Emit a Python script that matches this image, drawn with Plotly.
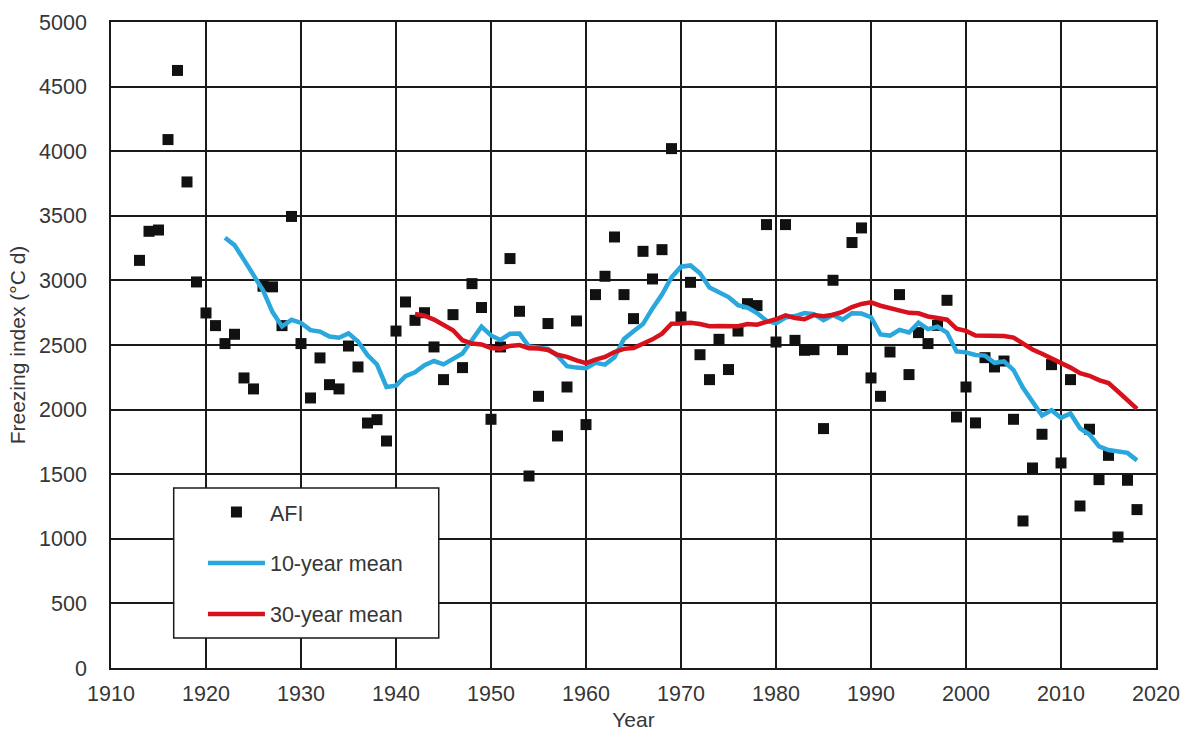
import plotly.graph_objects as go

# Annual freezing index (AFI), degree-days
years = list(range(1913, 2019))
afi = [
    3155, 3380, 3390, 4090, 4625, 3762, 2988, 2748, 2650, 2511,
    2583, 2245, 2160, 2955, 2950, 2650, 3495, 2511, 2090, 2400,
    2193, 2160, 2492, 2330, 1896, 1922, 1757, 2608, 2833, 2691,
    2750, 2485, 2232, 2735, 2325, 2975, 2790, 1925, 2485, 3169,
    2761, 1486, 2103, 2666, 1796, 2175, 2686, 1884, 2890, 3032,
    3336, 2890, 2704, 3225, 3011, 3238, 4020, 2717, 2985, 2425,
    2232, 2544, 2310, 2608, 2820, 2805, 3432, 2523, 3432, 2536,
    2459, 2464, 1853, 3001, 2464, 3293, 3406, 2245, 2103, 2446,
    2890, 2271, 2596, 2511, 2652, 2846, 1943, 2175, 1897, 2402,
    2330, 2376, 1925, 1138, 1548, 1809, 2348, 1587, 2232, 1254,
    1848, 1458, 1646, 1014, 1453, 1226,
]

# 10-year running mean, 1922-2018
years_10 = list(range(1922, 2019))
mean_10 = [
    3330, 3273, 3159, 3036, 2923, 2755, 2644, 2695, 2671, 2615,
    2604, 2565, 2556, 2590, 2527, 2422, 2349, 2175, 2185, 2259,
    2288, 2344, 2376, 2350, 2391, 2434, 2539, 2642, 2574, 2539,
    2587, 2588, 2488, 2475, 2469, 2416, 2336, 2325, 2321, 2362,
    2348, 2405, 2546, 2606, 2662, 2783, 2890, 3023, 3106, 3116,
    3055, 2945, 2910, 2871, 2809, 2790, 2747, 2688, 2668, 2713,
    2724, 2747, 2739, 2693, 2733, 2697, 2746, 2743, 2715, 2582,
    2573, 2617, 2597, 2672, 2623, 2641, 2597, 2450, 2443, 2423,
    2418, 2362, 2373, 2306, 2168, 2058, 1954, 1995, 1936, 1970,
    1855, 1807, 1715, 1687, 1674, 1665, 1607,
]

# 30-year running mean, 1942-2018
years_30 = list(range(1942, 2019))
mean_30 = [
    2741, 2727, 2697, 2659, 2614, 2537, 2511, 2504, 2477, 2471,
    2493, 2499, 2474, 2472, 2462, 2424, 2408, 2381, 2360, 2387,
    2408, 2446, 2470, 2477, 2507, 2544, 2588, 2664, 2667, 2672,
    2663, 2646, 2648, 2651, 2646, 2663, 2657, 2679, 2699, 2730,
    2709, 2699, 2732, 2723, 2734, 2757, 2794, 2818, 2830, 2804,
    2784, 2769, 2749, 2745, 2721, 2709, 2696, 2627, 2609, 2573,
    2572, 2575, 2570, 2557, 2508, 2465, 2432, 2396, 2365, 2325,
    2282, 2262, 2228, 2205, 2140, 2075, 2005,
]

x_ticks = list(range(1910, 2021, 10))
y_ticks = list(range(0, 5001, 500))

FONT = "Arial, Liberation Sans, sans-serif"
TEXT = "#363636"
GRID = "#1a1a1a"

fig = go.Figure()

fig.add_trace(go.Scatter(
    x=years, y=afi, mode="markers", name="AFI",
    marker=dict(symbol="square", size=11, color="#111111"),
    legendgroup="a",
))
fig.add_trace(go.Scatter(
    x=years_10, y=mean_10, mode="lines", name="10-year mean",
    line=dict(color="#2aa7dc", width=4.5),
    legendgroup="b",
))
fig.add_trace(go.Scatter(
    x=years_30, y=mean_30, mode="lines", name="30-year mean",
    line=dict(color="#d8121c", width=4.5),
    legendgroup="c",
))

# white framed box behind the legend entries
fig.add_shape(
    type="rect", xref="x", yref="y",
    x0=1916.6, x1=1944.5, y0=232, y1=1393,
    fillcolor="white", line=dict(color=GRID, width=1.5), layer="above",
)

fig.update_layout(
    width=1189, height=738,
    margin=dict(l=111, r=33, t=22, b=70),
    paper_bgcolor="white", plot_bgcolor="white",
    font=dict(family=FONT, size=21, color=TEXT),
    showlegend=True,
    legend=dict(
        x=0.088, y=0.273, xanchor="left", yanchor="top",
        bgcolor="rgba(0,0,0,0)", borderwidth=0,
        font=dict(family=FONT, size=21.5, color=TEXT),
        traceorder="grouped", tracegroupgap=20, itemwidth=57,
    ),
    xaxis=dict(
        range=[1910, 2020], tickvals=x_ticks, automargin=False,
        showgrid=True, gridcolor=GRID, gridwidth=1.5,
        showline=True, linecolor=GRID, linewidth=1.5, mirror=True,
        zeroline=False, ticks="", ticklabelstandoff=5,
        tickfont=dict(size=21.5, color=TEXT),
        title=dict(text="Year", font=dict(size=21, color=TEXT), standoff=8),
    ),
    yaxis=dict(
        range=[0, 5000], tickvals=y_ticks, automargin=False,
        showgrid=True, gridcolor=GRID, gridwidth=1.5,
        showline=True, linecolor=GRID, linewidth=1.5, mirror=True,
        zeroline=False, ticks="", ticklabelstandoff=18,
        tickfont=dict(size=21.5, color=TEXT),
        title=dict(text="Freezing index (°C d)", font=dict(size=21, color=TEXT), standoff=8),
    ),
)

fig.write_html("out.html")
